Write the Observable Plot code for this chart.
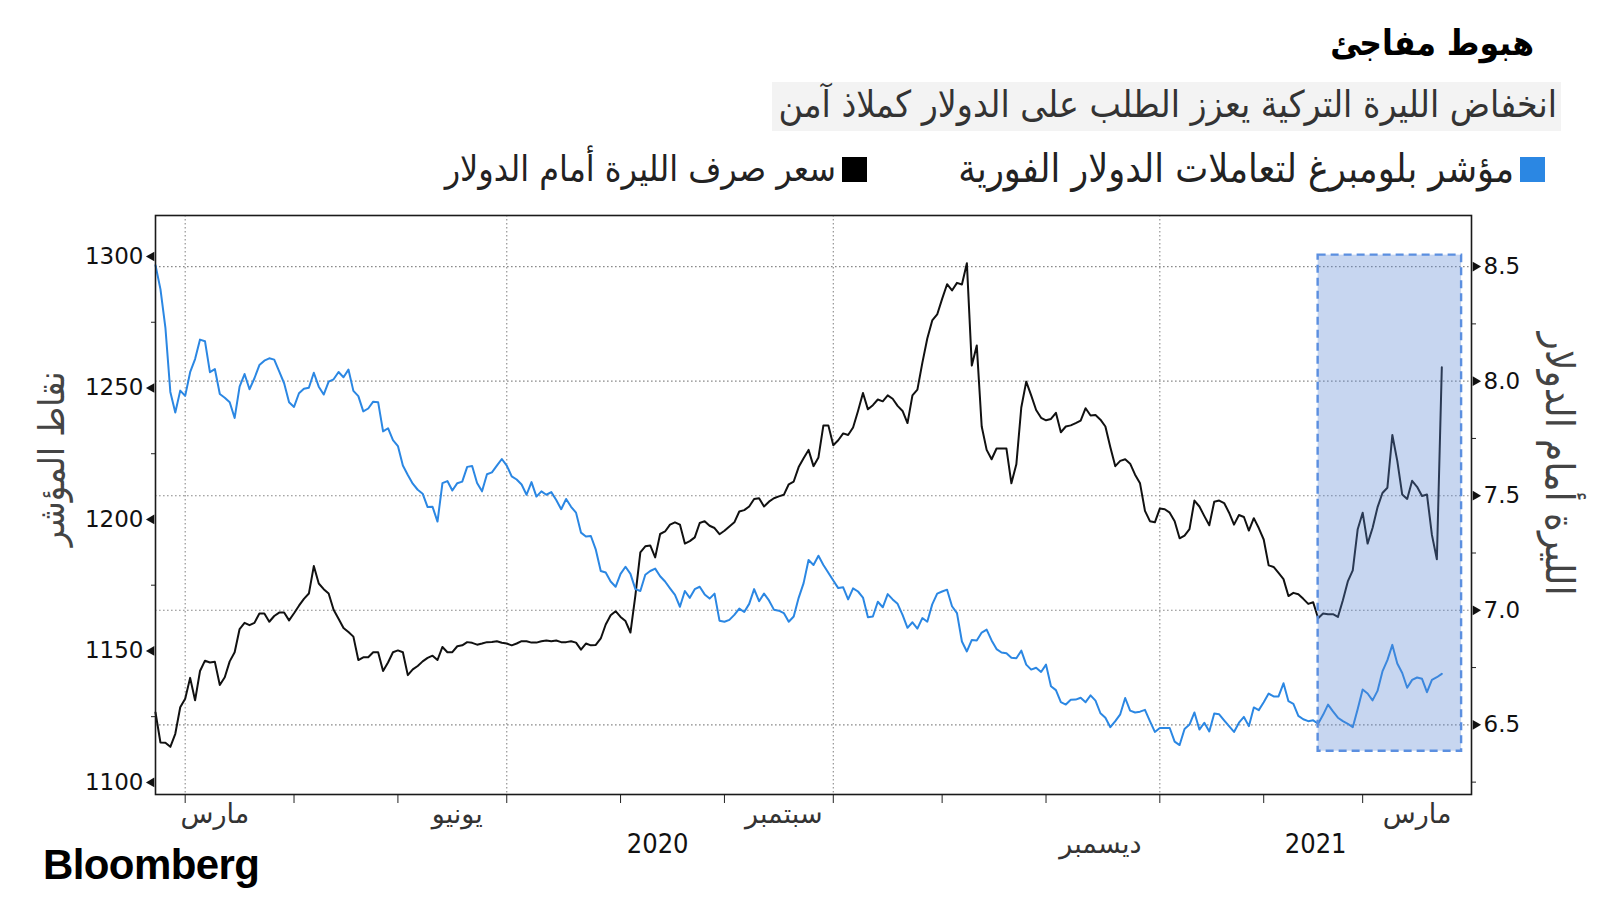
<!DOCTYPE html>
<html lang="ar">
<head>
<meta charset="utf-8">
<script src="https://cdn.jsdelivr.net/npm/d3@7"></script>
<script src="https://cdn.jsdelivr.net/npm/@observablehq/plot@0.6"></script>
<style>
  html, body { margin: 0; padding: 0; background: #fff; }
  body { width: 1600px; height: 900px; position: relative; overflow: hidden; font-family: "DejaVu Sans", sans-serif; color: #111; }
  .abs { position: absolute; white-space: nowrap; }
  .cond { font-family: "DejaVu Sans Condensed", "DejaVu Sans", sans-serif; font-stretch: condensed; }
  #title { right: 66px; top: 26px; font-size: 35px; font-weight: bold; line-height: 1; direction: rtl; color: #000; }
  #subtitle { left: 772px; top: 82px; width: 789px; height: 49px; background: #f3f3f3; }
  #subtitle span { position: absolute; right: 4px; top: 0px; font-size: 37px; line-height: 1.25; color: #333; direction: rtl; }
  .leg { top: 150px; height: 38px; display: flex; flex-direction: row; align-items: center; direction: ltr; }
  .leg .txt { color: #222; direction: rtl; margin-right: 6px; line-height: 1.1; }
  .leg .sw { width: 25px; height: 25px; }
  #ytitleL { left: 51px; top: 459px; transform: translate(-50%, -50%) rotate(-90deg); font-size: 36px; color: #444; direction: rtl; }
  #ytitleR { left: 1560px; top: 464px; transform: translate(-50%, -50%) rotate(90deg); font-size: 40px; color: #444; direction: rtl; }
  #chart { left: 0; top: 200px; }
  #logo { left: 43px; top: 844px; font-family: "Liberation Sans", Arial, sans-serif; font-weight: bold; font-size: 42px; letter-spacing: -0.6px; color: #000; line-height: 1; }
</style>
</head>
<body>
<div id="title" class="abs cond">هبوط مفاجئ</div>
<div id="subtitle" class="abs"><span class="cond">انخفاض الليرة التركية يعزز الطلب على الدولار كملاذ آمن</span></div>
<div class="abs leg" style="right:55px"><span class="txt cond" style="font-size:39px">مؤشر بلومبرغ لتعاملات الدولار الفورية</span><span class="sw" style="background:#2b87e3"></span></div>
<div class="abs leg" style="right:733px"><span class="txt cond" style="font-size:35.5px">سعر صرف الليرة أمام الدولار</span><span class="sw" style="background:#000"></span></div>
<div id="ytitleL" class="abs cond">نقاط المؤشر</div>
<div id="ytitleR" class="abs cond">الليرة أمام الدولار</div>
<div id="chart" class="abs"></div>
<div id="logo" class="abs">Bloomberg</div>

<script>
// ---------- data (daily closes; first trading day 2020-03-24) ----------
const firstDay = "2020-03-24";

// Bloomberg Dollar Spot Index (left axis, index points)
const dollarIndex = [
  1296.7,1287.6,1273.0,1248.5,1240.7,1249.0,1247.0,1256.0,1261.0,1268.4,
  1267.8,1256.0,1257.2,1247.7,1246.3,1244.6,1238.6,1250.5,1255.3,1249.5,
  1253.7,1258.7,1260.4,1261.3,1260.8,1256.3,1251.8,1244.6,1242.8,1248.0,
  1249.7,1250.1,1255.8,1250.5,1247.5,1252.4,1253.3,1256.1,1254.1,1257.0,
  1248.9,1246.9,1241.1,1242.2,1244.8,1244.6,1233.5,1234.7,1230.2,1227.9,
  1220.5,1216.9,1213.6,1211.3,1209.8,1204.7,1204.8,1199.2,1213.8,1214.6,
  1211.0,1213.8,1214.4,1220.0,1220.3,1213.9,1210.7,1217.2,
  1217.9,1220.5,1223.0,1220.5,1216.4,1215.2,1213.3,1209.4,1214.2,1208.7,
  1210.7,1209.4,1210.4,1207.4,1203.9,1207.8,1204.8,1202.6,1195.0,1193.5,
  1193.7,1188.5,1180.4,1179.8,1176.4,1174.4,1179.3,1182.0,1179.3,1173.5,
  1172.8,1179.0,1180.4,1181.3,1178.4,1176.4,1173.8,1171.3,1166.8,1172.8,
  1170.2,1173.5,1174.4,1171.5,1169.9,1171.8,1161.5,1161.1,1161.8,1163.7,
  1166.1,1164.8,1167.9,1173.5,1168.9,1171.8,1169.2,1165.7,1165.3,1164.4,
  1161.1,1163.1,1170.2,1175.8,1184.6,1182.7,1186.2,
  1182.7,1179.7,1176.8,1173.9,1174.2,1169.6,1173.8,1172.6,1170.3,1162.8,
  1163.1,1168.7,1166.6,1171.6,1169.6,1167.9,1163.7,1158.8,1160.9,1158.5,
  1162.5,1161.1,1167.7,1171.8,1172.6,1173.3,1167.0,1164.4,1153.6,1149.8,
  1154.2,1154.0,1157.0,1158.1,1154.0,1150.7,1149.4,1149.1,1147.4,1147.2,
  1150.1,1144.8,1142.9,1143.6,1142.0,1144.8,1136.6,1135.1,1130.5,1129.6,
  1131.4,1131.5,1132.2,1130.5,1133.1,1131.1,1126.3,1124.6,1121.0,1123.3,
  1125.9,1132.1,1127.3,1126.6,1126.9,1127.6,1123.3,
  1119.2,1120.7,1120.7,1120.7,1115.5,1114.2,1120.3,1122.0,1126.6,1120.1,
  1122.7,1119.4,1126.2,1125.9,1123.6,1121.4,1119.2,1122.7,1124.9,1121.4,
  1128.5,1127.5,1130.5,1133.8,1132.7,1132.7,1137.7,1130.9,1129.9,1125.3,
  1124.0,1123.3,1123.6,1122.3,1125.7,1129.6,1127.0,1124.6,1123.3,1122.3,
  1121.0,1127.9,1135.3,1133.8,1131.2,1134.8,1142.2,1146.5,1152.3,1145.2,
  1141.6,1136.0,1139.0,1139.9,1139.4,1134.3,1139.0,1140.0,1141.3
];

// USD/TRY (right axis, lira per dollar)
const lira = [
  6.554,6.423,6.422,6.404,6.461,6.577,6.614,6.705,6.607,6.735,
  6.780,6.772,6.775,6.674,6.708,6.777,6.817,6.918,6.945,6.935,
  6.945,6.986,6.986,6.950,6.975,6.990,6.990,6.956,6.987,7.020,
  7.050,7.073,7.193,7.117,7.092,7.073,7.002,6.963,6.923,6.905,
  6.885,6.783,6.795,6.795,6.817,6.817,6.735,6.772,6.817,6.825,
  6.817,6.717,6.742,6.757,6.777,6.792,6.802,6.783,6.840,6.817,
  6.817,6.843,6.847,6.861,6.858,6.850,6.855,6.861,
  6.862,6.865,6.858,6.855,6.847,6.855,6.865,6.865,6.859,6.859,
  6.865,6.868,6.865,6.868,6.861,6.861,6.865,6.859,6.828,6.855,
  6.847,6.849,6.877,6.938,6.978,6.996,6.971,6.953,6.903,7.065,
  7.253,7.279,7.283,7.231,7.333,7.344,7.374,7.384,7.374,7.291,
  7.302,7.318,7.381,7.389,7.369,7.359,7.332,7.347,7.366,7.384,
  7.431,7.437,7.453,7.486,7.489,7.453,7.474,7.489,7.497,7.504,
  7.550,7.562,7.625,7.664,7.700,7.629,7.667,
  7.807,7.807,7.720,7.742,7.772,7.765,7.798,7.870,7.948,7.877,
  7.895,7.920,7.912,7.938,7.923,7.892,7.870,7.817,7.938,7.963,
  8.080,8.186,8.265,8.291,8.359,8.423,8.396,8.429,8.422,8.515,
  8.068,8.156,7.802,7.700,7.659,7.706,7.706,7.706,7.554,7.637,
  7.885,7.998,7.938,7.874,7.840,7.829,7.835,7.862,7.777,7.802,
  7.807,7.817,7.828,7.882,7.850,7.852,7.832,7.802,7.712,7.629,
  7.652,7.659,7.640,7.592,7.554,7.434,7.389,
  7.384,7.444,7.441,7.426,7.389,7.314,7.326,7.354,7.479,7.453,
  7.411,7.371,7.474,7.479,7.468,7.426,7.374,7.416,7.407,7.348,
  7.402,7.359,7.309,7.196,7.189,7.163,7.136,7.062,7.076,7.070,
  7.050,7.028,7.035,6.965,6.986,6.983,6.983,6.971,7.044,7.126,
  7.174,7.354,7.426,7.291,7.359,7.449,7.512,7.535,7.765,7.652,
  7.505,7.486,7.565,7.539,7.499,7.505,7.329,7.223,8.061
];

const leftTicks = [1100, 1150, 1200, 1250, 1300];
const leftMinor = [1125, 1175, 1225, 1275];
const rightTicks = [6.5, 7.0, 7.5, 8.0, 8.5];
const rightMinor = [6.25, 6.75, 7.25, 7.75, 8.25];
const leftDomain = [1095.4, 1315.6];
const rightDomain = [6.196, 8.723];

const monthStarts = ["2020-04-01","2020-05-01","2020-06-01","2020-07-01","2020-08-01","2020-09-01",
                     "2020-10-01","2020-11-01","2020-12-01","2021-01-01","2021-02-01","2021-03-01"];
const quarterStarts = ["2020-04-01","2020-07-01","2020-10-01","2021-01-01"];
const monthLabels = [
  {date: "2020-04-09", label: "مارس", row: 1},
  {date: "2020-06-17", label: "يونيو", row: 1},
  {date: "2020-09-17", label: "سبتمبر", row: 1},
  {date: "2020-12-16", label: "ديسمبر", row: 2},
  {date: "2021-03-16", label: "مارس", row: 1}
];
const yearLabels = [
  {label: "2020", from: "2020-03-24", to: "2021-01-01"},
  {label: "2021", from: "2021-01-01", to: "2021-03-31"}
];
const highlight = {from: "2021-02-16", to: "2021-03-29", low: 6.385, high: 8.55};

// ---------- trading-day calendar (x positions are trading-day indices) ----------
const calendar = d3.utcDay.range(new Date(firstDay + "T00:00Z"), new Date("2021-05-01T00:00Z"))
  .filter(d => d.getUTCDay() !== 0 && d.getUTCDay() !== 6);
const idx = s => {
  const t = new Date(s + "T00:00Z");
  return calendar.findIndex(d => d >= t);
};
const xEnd = idx("2021-03-31"); // right edge of the frame

// left values are mapped onto the right (y) scale
const toR = v => rightDomain[0] + (v - leftDomain[0]) * (rightDomain[1] - rightDomain[0]) / (leftDomain[1] - leftDomain[0]);
const fromR = r => leftDomain[0] + (r - rightDomain[0]) * (leftDomain[1] - leftDomain[0]) / (rightDomain[1] - rightDomain[0]);

const dollarData = dollarIndex.map((v, i) => ({i, y: toR(v)}));
const liraData = lira.map((v, i) => ({i, y: v}));

const blue = "#2b87e3";
const grid = {stroke: "#8a8a8a", strokeDasharray: "1.6,2.4", strokeWidth: 1.1};

const chart = Plot.plot({
  width: 1600,
  height: 660,
  marginTop: 15,
  marginBottom: 66,
  marginLeft: 155,
  marginRight: 129,
  style: {fontFamily: "DejaVu Sans, sans-serif", fontSize: "23px", color: "#111", background: "transparent", overflow: "visible"},
  x: {type: "linear", domain: [0, xEnd], axis: null, label: null},
  y: {domain: rightDomain, axis: null, label: null},
  marks: [
    // grid
    Plot.ruleY(rightTicks, grid),
    Plot.ruleX(quarterStarts.map(idx), grid),
    // series
    Plot.line(liraData, {x: "i", y: "y", stroke: "#111", strokeWidth: 2}),
    Plot.line(dollarData, {x: "i", y: "y", stroke: blue, strokeWidth: 2}),
    // highlight box
    Plot.rect([highlight], {x1: d => idx(d.from), x2: d => idx(d.to), y1: "low", y2: "high",
      fill: "rgb(90,135,210)", fillOpacity: 0.34, stroke: "#5b8fe0", strokeWidth: 2.4, strokeDasharray: "8,5"}),
    // left axis
    Plot.axisY(leftTicks.map(toR), {anchor: "left", label: null, tickSize: 0, tickPadding: 12, tickFormat: r => String(Math.round(fromR(r))), fill: "#111"}),
    Plot.axisY(leftMinor.map(toR), {anchor: "left", label: null, tickSize: 4, tickFormat: () => "", stroke: "#222"}),
    Plot.dot(leftTicks.map(toR), {y: d => d, frameAnchor: "left", dx: -4, symbol: "triangle", r: 3.6, rotate: -90, fill: "#111", stroke: "none"}),
    // right axis
    Plot.axisY(rightTicks, {anchor: "right", label: null, tickSize: 0, tickPadding: 12, tickFormat: d3.format(".1f"), fill: "#111"}),
    Plot.axisY(rightMinor, {anchor: "right", label: null, tickSize: 4, tickFormat: () => "", stroke: "#222"}),
    Plot.dot(rightTicks, {y: d => d, frameAnchor: "right", dx: 4, symbol: "triangle", r: 3.6, rotate: 90, fill: "#111", stroke: "none"}),
    // bottom axis: monthly ticks
    Plot.axisX(monthStarts.map(idx), {anchor: "bottom", label: null, tickSize: 9, tickFormat: () => "", stroke: "#222"}),
    Plot.text(monthLabels.filter(d => d.row === 1), {x: d => idx(d.date), text: "label", frameAnchor: "bottom",
      fontSize: 27, fill: "#333", lineAnchor: "middle", dy: 20}),
    Plot.text(monthLabels.filter(d => d.row === 2), {x: d => idx(d.date), text: "label", frameAnchor: "bottom",
      fontSize: 27, fill: "#333", lineAnchor: "middle", dy: 50}),
    Plot.text(yearLabels, {x: d => (idx(d.from) + Math.min(idx(d.to), xEnd)) / 2, text: "label", frameAnchor: "bottom",
      fontSize: 27, fill: "#111", lineAnchor: "middle", dy: 50, fontFamily: "DejaVu Sans Condensed, Liberation Sans Narrow, sans-serif"}),
    Plot.frame({stroke: "#1a1a1a", strokeWidth: 1.6})
  ]
});
document.getElementById("chart").appendChild(chart);
</script>
</body>
</html>
